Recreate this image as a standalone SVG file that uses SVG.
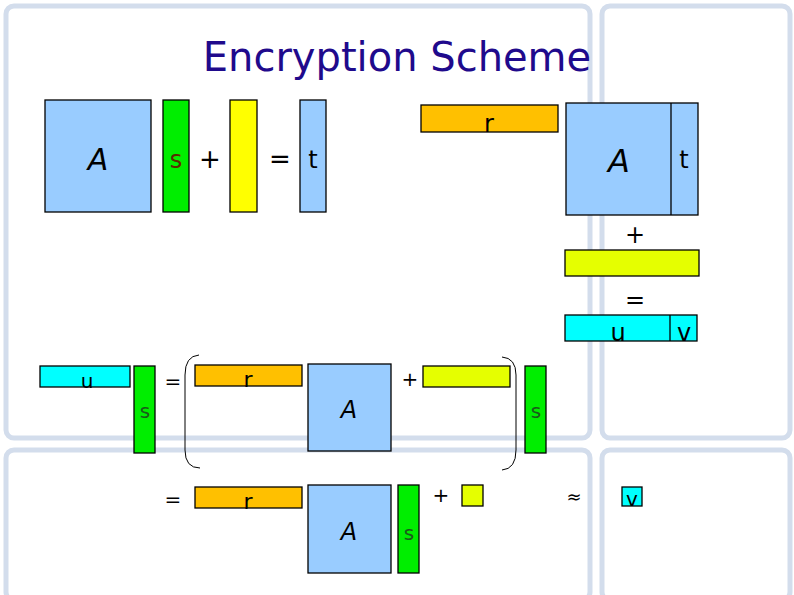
<svg xmlns="http://www.w3.org/2000/svg" width="794" height="595" viewBox="0 0 794 595">
<style>
.bg{fill:none;stroke:#d3ddec;stroke-width:5}
.b{stroke:#000;stroke-width:1.3}
.A{fill:#99ccff}.g{fill:#00ee00}.y{fill:#ffff00}.ly{fill:#e5ff00}.o{fill:#ffc000}.c{fill:#00ffff}
text{font-family:"DejaVu Sans",sans-serif;text-anchor:middle;fill:#000}
.gs{fill:#1a5a1a;font-size:20px}
</style>
<rect width="794" height="595" fill="#fff"/>
<g id="background">
<rect class="bg" x="6" y="6" width="584" height="432" rx="8"/>
<rect class="bg" x="602" y="6" width="188" height="432" rx="8"/>
<rect class="bg" x="6" y="450" width="584" height="150" rx="8"/>
<rect class="bg" x="602" y="450" width="188" height="150" rx="8"/>
</g>
<text x="397" y="71" style="font-size:40px;fill:#1f0a8c">Encryption Scheme</text>
<g id="top-left">
<rect class="A b" x="45" y="100" width="106" height="112"/><text x="98" y="170" style="font-size:30px;font-style:italic">A</text>
<rect class="g b" x="163" y="100" width="26" height="112"/><text x="176" y="168" style="font-size:24px;fill:#5a2a00">s</text>
<text x="210" y="168" style="font-size:26px">+</text>
<rect class="y b" x="230" y="100" width="27" height="112"/>
<text x="280" y="168" style="font-size:26px">=</text>
<rect class="A b" x="300" y="100" width="26" height="112"/><text x="313" y="168" style="font-size:24px">t</text>
</g>
<g id="top-right">
<rect class="o b" x="421" y="105" width="137" height="27"/><text x="489" y="132" style="font-size:24px">r</text>
<rect class="A b" x="566" y="103" width="132" height="112"/><line class="b" x1="671" y1="103" x2="671" y2="215"/>
<text x="619" y="172" style="font-size:32px;font-style:italic">A</text><text x="684" y="168" style="font-size:24px">t</text>
<text x="635" y="243" style="font-size:24px">+</text>
<rect class="ly b" x="565" y="250" width="134" height="26"/>
<text x="635" y="308" style="font-size:24px">=</text>
<rect class="c b" x="565" y="315" width="132" height="26"/><line class="b" x1="670" y1="315" x2="670" y2="341"/>
<text x="618" y="341" style="font-size:24px">u</text><text x="684" y="341" style="font-size:24px">v</text>
</g>
<g id="middle">
<rect class="c b" x="40" y="366" width="90" height="21"/><text x="87" y="388" style="font-size:20px">u</text>
<rect class="g b" x="134" y="366" width="21" height="87"/><text x="145" y="418" class="gs">s</text>
<text x="173" y="388" style="font-size:20px">=</text>
<path d="M199,355 Q185,356 185,375 V450 Q185,468 200,468" fill="none" stroke="#000" stroke-width="1"/>
<rect class="o b" x="195" y="365" width="107" height="21"/><text x="248" y="387" style="font-size:22px">r</text>
<rect class="A b" x="308" y="364" width="83" height="87"/><text x="349" y="418" style="font-size:24px;font-style:italic">A</text>
<text x="410" y="386" style="font-size:20px">+</text>
<rect class="ly b" x="423" y="366" width="87" height="21"/>
<path d="M502,357 Q516,358 516,375 V450 Q516,469 502,470" fill="none" stroke="#000" stroke-width="1"/>
<rect class="g b" x="525" y="366" width="21" height="87"/><text x="536" y="418" class="gs">s</text>
</g>
<g id="bottom">
<text x="173" y="506" style="font-size:20px">=</text>
<rect class="o b" x="195" y="487" width="107" height="21"/><text x="248" y="509" style="font-size:22px">r</text>
<rect class="A b" x="308" y="485" width="83" height="88"/><text x="349" y="540" style="font-size:24px;font-style:italic">A</text>
<rect class="g b" x="398" y="485" width="21" height="88"/><text x="409" y="540" class="gs">s</text>
<text x="441" y="502" style="font-size:20px">+</text>
<rect class="ly b" x="462" y="485" width="21" height="21"/>
<text x="574" y="503" style="font-size:18px">≈</text>
<rect class="c b" x="622" y="487" width="20" height="19"/><text x="632" y="506" style="font-size:20px">v</text>
</g>
</svg>
